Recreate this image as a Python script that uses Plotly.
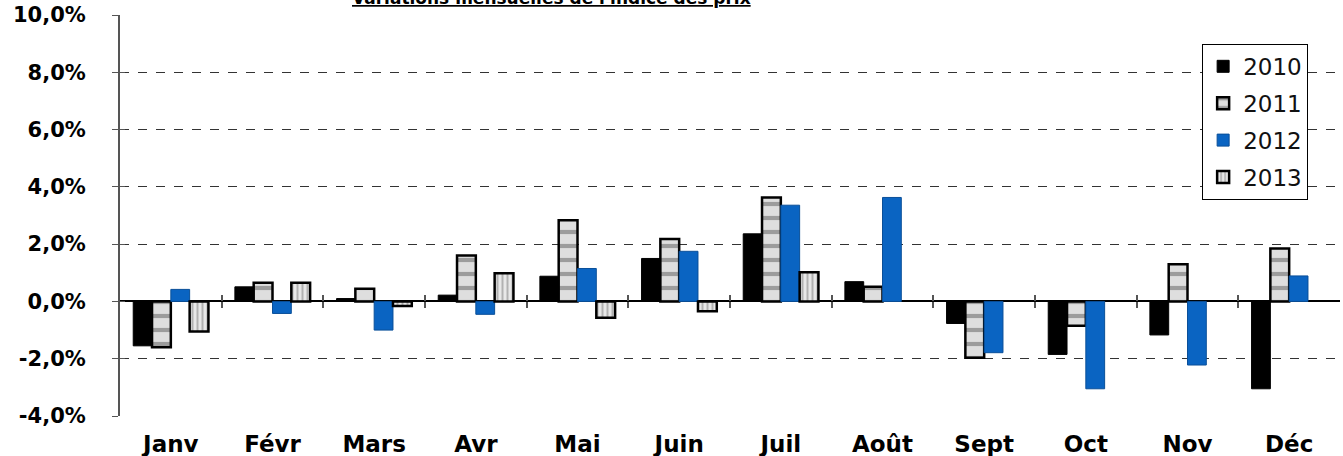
import plotly.graph_objects as go

months = ["Janv", "Févr", "Mars", "Avr", "Mai", "Juin", "Juil", "Août", "Sept", "Oct", "Nov", "Déc"]
v2010 = [-1.55, 0.51, 0.10, 0.22, 0.88, 1.50, 2.36, 0.69, -0.77, -1.85, -1.17, -3.05]
v2011 = [-1.60, 0.65, 0.44, 1.60, 2.83, 2.18, 3.63, 0.51, -1.97, -0.85, 1.30, 1.85]
v2012 = [0.42, -0.42, -1.00, -0.45, 1.15, 1.75, 3.36, 3.63, -1.79, -3.05, -2.22, 0.89]
v2013 = [-1.05, 0.65, -0.16, 0.98, -0.57, -0.34, 1.02, None, None, None, None, None]
yticks = [-4, -2, 0, 2, 4, 6, 8, 10]
ytick_text = ["-4,0%", "-2,0%", "0,0%", "2,0%", "4,0%", "6,0%", "8,0%", "10,0%"]
title = "Variations mensuelles de l'indice des prix"

xs = list(range(len(months)))
FONT = "DejaVu Sans, Liberation Sans, Arial, sans-serif"


def pct(vals):
    return [v / 100 if v is not None else None for v in vals]


fig = go.Figure()
fig.add_trace(go.Bar(name="2010", x=xs, y=pct(v2010),
                     marker=dict(color="#000000", line=dict(color="#000000", width=1)),
                     legendgroup="a"))
fig.add_trace(go.Bar(name="2011", x=xs, y=pct(v2011),
                     marker=dict(color="#d0d0d0", line=dict(color="#000000", width=2.5),
                                 pattern=dict(shape="-", fgcolor="#5a5a5a", bgcolor="#dedede",
                                              size=14, solidity=0.3)),
                     legendgroup="b"))
fig.add_trace(go.Bar(name="2012", x=xs, y=pct(v2012),
                     marker=dict(color="#0a64c2", line=dict(color="#0a4f99", width=1)),
                     legendgroup="c"))
fig.add_trace(go.Bar(name="2013", x=xs, y=pct(v2013),
                     marker=dict(color="#d0d0d0", line=dict(color="#000000", width=2.5),
                                 pattern=dict(shape="|", fgcolor="#7a7a7a", bgcolor="#e8e8e8",
                                              size=5, solidity=0.4)),
                     legendgroup="d"))

yr = [-0.04, 0.10]
xr = [-0.5, len(months) - 0.5]
bounds = [i + 0.5 for i in range(len(months) - 1)]
zero_pos = (0 - yr[0]) / (yr[1] - yr[0])

fig.update_layout(
    width=1343, height=456,
    margin=dict(l=120, r=3, t=15, b=40, autoexpand=False),
    paper_bgcolor="white", plot_bgcolor="white",
    barmode="group", bargap=0.26, bargroupgap=0.0,
    font=dict(family=FONT, color="#000000"),
    showlegend=True,
    legend=dict(x=0.887, y=0.928, xanchor="left", yanchor="top",
                bgcolor="white", bordercolor="#000000", borderwidth=1,
                font=dict(size=23, family=FONT, color="#111111"),
                tracegroupgap=4, itemwidth=30),
    xaxis=dict(range=xr, tickmode="array", tickvals=xs, ticktext=months,
               showgrid=False, zeroline=False, showline=False, ticks="",
               tickfont=dict(size=23, family=FONT, color="#000000", weight="bold"),
               ticklabelstandoff=12),
    xaxis2=dict(range=xr, overlaying="x", anchor="free", position=zero_pos, side="bottom",
                tickmode="array", tickvals=bounds, showticklabels=False,
                ticks="outside", ticklen=6, tickcolor="#555555", tickwidth=2,
                showgrid=False, zeroline=False, showline=False),
    xaxis3=dict(range=xr, overlaying="x", anchor="free", position=zero_pos, side="bottom",
                tickmode="array", tickvals=bounds, showticklabels=False,
                ticks="inside", ticklen=6, tickcolor="#555555", tickwidth=2,
                showgrid=False, zeroline=False, showline=False),
    yaxis=dict(range=yr, tickmode="array", tickvals=[t / 100 for t in yticks], ticktext=ytick_text,
               showgrid=True, gridcolor="#333333", griddash="dash", gridwidth=1,
               zeroline=True, zerolinecolor="#000000", zerolinewidth=1.5,
               showline=True, linecolor="#555555", linewidth=2,
               ticks="outside", ticklen=6, tickcolor="#555555", tickwidth=1,
               tickfont=dict(size=21, family=FONT, color="#000000", weight="bold"),
               ticklabelstandoff=22),
    yaxis2=dict(range=yr, overlaying="y", side="left", tickmode="array",
                tickvals=[t / 100 for t in yticks], showticklabels=False,
                ticks="inside", ticklen=5, tickcolor="#555555", tickwidth=1,
                showgrid=False, zeroline=False, showline=False),
    annotations=[dict(text="<b><u>" + title + "</u></b>", x=0.354, y=1, xref="paper", yref="paper",
                      xanchor="center", yanchor="bottom", yshift=5, showarrow=False,
                      font=dict(size=17, family=FONT, color="#000000"))],
)

# invisible traces to activate overlay axes
fig.add_trace(go.Scatter(x=[xr[0]], y=[0], xaxis="x2", yaxis="y", mode="markers",
                         marker=dict(opacity=0), showlegend=False, hoverinfo="skip"))
fig.add_trace(go.Scatter(x=[xr[0]], y=[0], xaxis="x3", yaxis="y2", mode="markers",
                         marker=dict(opacity=0), showlegend=False, hoverinfo="skip"))

fig.write_html("out.html", config={"displayModeBar": False},
               post_script="document.body.style.margin='0';")
